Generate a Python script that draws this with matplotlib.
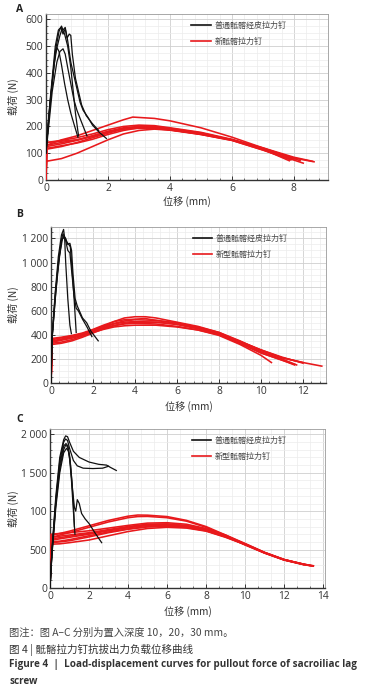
import matplotlib
matplotlib.use("Agg")
import matplotlib.pyplot as plt
from matplotlib.ticker import FixedLocator, AutoMinorLocator
from matplotlib.lines import Line2D

plt.rcParams['font.family'] = ['Open Sans', 'Noto Sans CJK SC', 'DejaVu Sans']

# ---------------- Panel A data (depth 10 mm) ----------------
A_black = [
    [(0,110),(0.15,300),(0.3,480),(0.42,555),(0.5,575),(0.55,560),(0.62,570),(0.7,520),(0.8,440),(0.9,390),(1.0,340),(1.1,290),(1.2,260),(1.35,235),(1.5,205),(1.7,180),(1.95,155)],
    [(0,120),(0.15,320),(0.3,500),(0.4,560),(0.48,570),(0.55,545),(0.62,565),(0.68,530),(0.75,545),(0.8,540),(0.85,470),(0.95,380),(1.05,330),(1.15,280),(1.3,240),(1.5,210),(1.7,185)],
    [(0,100),(0.1,250),(0.25,420),(0.35,495),(0.42,480),(0.5,430),(0.6,360),(0.7,300),(0.8,250),(0.9,210),(1.03,160)],
    [(0,100),(0.2,330),(0.35,440),(0.45,480),(0.55,490),(0.62,470),(0.7,420),(0.8,360),(0.9,300),(1.0,260),(1.15,215),(1.32,165)],
    [(0,105),(0.15,310),(0.3,470),(0.45,540),(0.52,565),(0.6,545),(0.7,500),(0.8,420),(0.88,330),(0.95,250),(1.05,165)],
]
A_red = [
    [(0,0),(0.02,130),(0.5,150),(1,165),(1.5,185),(2,205),(2.5,225),(2.8,235),(3.5,230),(4,221),(5,195),(6,160),(7,120),(8,85),(8.6,70)],
    [(0,0),(0.02,140),(0.5,148),(1,158),(1.5,172),(2,188),(2.5,200),(3,205),(3.5,203),(4,195),(5,178),(6,152),(7,118),(8,82),(8.65,68)],
    [(0,0),(0.02,125),(0.5,135),(1,148),(1.5,165),(2,182),(2.5,195),(3,200),(3.5,198),(4,190),(5,172),(6,150),(7,115),(7.85,72)],
    [(0,0),(0.02,115),(0.5,125),(1,140),(1.5,158),(2,175),(2.5,190),(3,198),(3.5,196),(4,188),(5,170),(6,148),(7,112),(8.3,63)],
    [(0,0),(0.02,118),(0.5,128),(1,138),(1.5,152),(2,170),(2.5,185),(3,195),(3.5,195),(4,188),(5,172),(6,150),(7,118),(8,78)],
    [(0,0),(0.02,140),(0.5,145),(1,150),(1.5,162),(2,178),(2.5,192),(3,200),(3.5,200),(4,193),(5,176),(6,150),(7,120),(8.2,72)],
    [(0,0),(0.02,70),(0.5,80),(1,100),(1.5,125),(2,150),(2.5,172),(3,185),(3.5,190),(4,186),(5,170),(6,148),(7,112),(7.9,75)],
    [(0,0),(0.02,130),(0.5,140),(1,150),(1.5,165),(2,180),(2.5,190),(3,193),(3.5,192),(4,187),(5,172),(6,150),(7,116),(8,80)],
]

# ---------------- Panel B data (depth 20 mm) ----------------
B_black = [
    [(0,0),(0.05,380),(0.2,750),(0.35,1050),(0.5,1230),(0.6,1275),(0.65,1200),(0.7,1000),(0.8,700),(0.9,480),(0.97,410)],
    [(0,0),(0.05,370),(0.2,730),(0.35,1000),(0.5,1190),(0.57,1240),(0.65,1210),(0.75,1170),(0.85,1150),(0.92,1130),(1.0,950),(1.1,700),(1.15,560),(1.2,420)],
    [(0,0),(0.05,360),(0.2,700),(0.4,1050),(0.55,1200),(0.62,1220),(0.7,1200),(0.8,1150),(0.9,1160),(0.98,1100),(1.05,900),(1.15,700),(1.25,640),(1.35,600),(1.5,540),(1.7,500),(1.9,430),(2.25,350)],
    [(0,0),(0.05,370),(0.3,900),(0.5,1180),(0.6,1210),(0.7,1180),(0.8,1100),(0.9,1080),(1.0,900),(1.1,720),(1.2,620),(1.3,600),(1.5,530),(1.7,470),(1.95,385)],
]
B_red = [
    [(0,0),(0.05,340),(0.5,360),(1,380),(1.5,400),(2,430),(2.5,470),(3,510),(3.5,540),(4,550),(4.5,550),(5,540),(6,505),(7,470),(8,420),(9,350),(10,270),(11,210),(12,170),(12.9,140)],
    [(0,0),(0.05,360),(0.5,375),(1,390),(1.5,410),(2,440),(2.5,470),(3,495),(3.5,515),(4,525),(5,520),(6,500),(7,460),(8,410),(9,330),(10,250),(11,190),(11.6,155)],
    [(0,0),(0.05,320),(0.5,330),(1,350),(1.5,380),(2,415),(2.5,450),(3,475),(3.5,490),(4,495),(5,490),(6,470),(7,440),(8,395),(9,320),(10,230),(10.5,170)],
    [(0,0),(0.05,350),(0.5,365),(1,385),(1.5,405),(2,430),(2.5,455),(3,478),(3.5,495),(4,505),(5,505),(6,490),(7,455),(8,410),(9,345),(10,275),(11,215),(12,165)],
    [(0,0),(0.05,330),(0.5,340),(1,360),(1.5,390),(2,420),(2.5,445),(3,465),(3.5,475),(4,480),(5,480),(6,465),(7,440),(8,400),(9,330),(10,250),(11,190),(11.6,150)],
    [(0,0),(0.05,370),(0.5,380),(1,395),(1.5,415),(2,445),(2.5,480),(3,510),(3.5,525),(4,530),(4.5,535),(5,520),(6,495),(7,465),(8,420),(9,345),(10,275),(11,210),(12,170)],
    [(0,0),(0.05,340),(0.5,355),(1,372),(1.5,395),(2,425),(2.5,460),(3,490),(3.5,505),(4,510),(5,505),(6,485),(7,450),(8,405),(9,340),(10,260),(11,200),(11.7,150)],
]

# ---------------- Panel C data (depth 30 mm) ----------------
C_black = [
    [(0,0),(0.1,500),(0.3,1200),(0.5,1700),(0.7,1930),(0.8,1980),(0.9,1970),(1.0,1900),(1.2,1780),(1.5,1700),(2.0,1640),(2.5,1610),(2.9,1600),(3.1,1570),(3.4,1530)],
    [(0,0),(0.1,480),(0.3,1150),(0.5,1650),(0.7,1900),(0.8,1940),(0.9,1920),(1.0,1820),(1.2,1660),(1.4,1590),(1.7,1560),(2.2,1555),(2.7,1560),(3.0,1585)],
    [(0,0),(0.1,450),(0.3,1100),(0.5,1550),(0.7,1800),(0.8,1860),(0.9,1840),(1.0,1700),(1.1,1400),(1.2,1000),(1.28,700)],
    [(0,0),(0.1,430),(0.3,1050),(0.5,1500),(0.7,1760),(0.85,1820),(0.95,1780),(1.05,1600),(1.15,1300),(1.25,1050),(1.32,1000),(1.4,1150),(1.5,1100),(1.62,970),(1.8,900),(2.0,840),(2.3,720),(2.65,590)],
    [(0,0),(0.1,460),(0.3,1120),(0.5,1600),(0.7,1850),(0.82,1880),(0.92,1850),(1.02,1700),(1.12,1400),(1.2,1100),(1.25,800)],
]
C_red = [
    [(0,0),(0.05,680),(0.5,710),(1,740),(2,810),(3,880),(4,935),(4.5,950),(5,948),(6,930),(7,880),(8,800),(9,690),(10,570),(11,460),(12,370),(13,310),(13.5,290)],
    [(0,0),(0.05,650),(0.5,690),(1,720),(2,790),(3,860),(4,915),(4.5,930),(5,932),(6,915),(7,870),(8,790),(9,680),(10,560),(11,455),(12,365),(13,305),(13.5,285)],
    [(0,0),(0.05,700),(0.5,710),(1,720),(2,745),(3,780),(4,815),(5,845),(6,850),(7,830),(8,775),(9,690),(10,580),(11,465),(12,372),(13,310),(13.4,290)],
    [(0,0),(0.05,660),(0.5,675),(1,690),(2,720),(3,760),(4,800),(5,830),(6,835),(7,815),(8,765),(9,680),(10,575),(11,462),(12,370),(13,308),(13.5,288)],
    [(0,0),(0.05,620),(0.5,640),(1,660),(2,700),(3,745),(4,785),(5,815),(6,820),(7,800),(8,755),(9,672),(10,570),(11,460),(12,368),(13,306)],
    [(0,0),(0.05,600),(0.5,610),(1,630),(2,680),(3,730),(4,770),(5,800),(6,810),(7,792),(8,748),(9,668),(10,568),(11,458),(12,366),(13.3,295)],
    [(0,0),(0.05,570),(0.5,575),(1,590),(2,625),(3,680),(4,735),(5,775),(6,790),(7,780),(8,740),(9,660),(10,565),(11,455),(12,364),(13,304),(13.5,285)],
    [(0,0),(0.05,640),(0.5,655),(1,675),(2,710),(3,752),(4,792),(5,822),(6,828),(7,808),(8,760),(9,676),(10,572),(11,461),(12,369),(13,307)],
    [(0,0),(0.05,590),(0.5,600),(1,615),(2,665),(3,720),(4,765),(5,795),(6,805),(7,788),(8,745),(9,665),(10,566)],
]

A_yticks = [0, 100, 200, 300, 400, 500, 600]
A_ylabels = ["0", "100", "200", "300", "400", "500", "600"]
A_xticks = [0, 2, 4, 6, 8]
B_yticks = [0, 200, 400, 600, 800, 1000, 1200]
B_ylabels = ["0", "200", "400", "600", "800", "1 000", "1 200"]
B_xticks = [0, 2, 4, 6, 8, 10, 12]
C_yticks = [0, 500, 1000, 1500, 2000]
C_ylabels = ["0", "500", "100", "1 500", "2 000"]
C_xticks = [0, 2, 4, 6, 8, 10, 12, 14]

legend_black = "普通骶髂经皮拉力钉"
legend_red_A = "新骶髂拉力钉"
legend_red_BC = "新型骶髂拉力钉"

fig = plt.figure(figsize=(3.65, 6.94), dpi=100)
W, H = 365, 694

def box(l, t, r, b):
    return [l / W, 1 - b / H, (r - l) / W, (b - t) / H]

panels = [
    dict(rect=box(46, 14, 328, 180), xlim=(0, 9.1), ylim=(0, 620), black=A_black, red=A_red,
         yt=A_yticks, yl=A_ylabels, xt=A_xticks, xminor=5, yminor=4, red_label=legend_red_A,
         letter="A", letter_y=10, xlabel_y=202, ylabel_x=13),
    dict(rect=box(51, 227, 326, 383), xlim=(0, 13.1), ylim=(0, 1295), black=B_black, red=B_red,
         yt=B_yticks, yl=B_ylabels, xt=B_xticks, xminor=5, yminor=4, red_label=legend_red_BC,
         letter="B", letter_y=214, xlabel_y=407, ylabel_x=13),
    dict(rect=box(50, 429, 325, 588), xlim=(0, 14.1), ylim=(0, 2070), black=C_black, red=C_red,
         yt=C_yticks, yl=C_ylabels, xt=C_xticks, xminor=3, yminor=5, red_label=legend_red_BC,
         letter="C", letter_y=419, xlabel_y=612, ylabel_x=13),
]

red_c = "#e8191c"
cjk = ['Noto Sans CJK SC', 'DejaVu Sans']
for p in panels:
    ax = fig.add_axes(p["rect"])
    ax.set_facecolor("white")
    for c in p["red"]:
        xs = [q[0] for q in c]; ys = [q[1] for q in c]
        ax.plot(xs, ys, color=red_c, lw=1.15, zorder=3)
    for c in p["black"]:
        xs = [q[0] for q in c]; ys = [q[1] for q in c]
        ax.plot(xs, ys, color="#111111", lw=0.9, zorder=4)
    ax.set_xlim(*p["xlim"]); ax.set_ylim(*p["ylim"])
    ax.xaxis.set_major_locator(FixedLocator(p["xt"]))
    ax.set_xticklabels([str(v) for v in p["xt"]])
    ax.yaxis.set_major_locator(FixedLocator(p["yt"]))
    ax.set_yticklabels(p["yl"])
    ax.xaxis.set_minor_locator(AutoMinorLocator(p["xminor"]))
    ax.yaxis.set_minor_locator(AutoMinorLocator(p["yminor"]))
    ax.grid(which="major", color="#cfcfcf", lw=0.6, zorder=0)
    ax.grid(which="minor", color="#ececec", lw=0.5, zorder=0)
    ax.set_axisbelow(True)
    ax.tick_params(which="major", direction="in", length=3, width=0.7, labelsize=7.4,
                   colors="#333333", pad=2)
    ax.tick_params(which="minor", direction="in", length=1.5, width=0.5, colors="#333333")
    ax.tick_params(axis="x", which="both", top=False)
    ax.tick_params(axis="y", which="both", right=False)
    for s in ["left", "bottom"]:
        ax.spines[s].set_color("#333333"); ax.spines[s].set_linewidth(1.0)
    for s in ["top", "right"]:
        ax.spines[s].set_color("#9a9a9a"); ax.spines[s].set_linewidth(0.6)
    handles = [Line2D([], [], color="#111111", lw=1.2), Line2D([], [], color=red_c, lw=1.2)]
    leg = ax.legend(handles, [legend_black, p["red_label"]], loc="upper left",
                    bbox_to_anchor=(0.49, 1.0), frameon=False,
                    handlelength=2.4, handletextpad=0.45, labelspacing=0.85,
                    prop={'family': cjk, 'size': 5.8})
    for t in leg.get_texts():
        t.set_color("#444444")
    fig.text(16 / W, 1 - p["letter_y"] / H, p["letter"], fontsize=7.5, fontweight="bold",
             ha="left", va="center", color="#222222")
    l, b, w, h = p["rect"]
    fig.text(l + w / 2, 1 - p["xlabel_y"] / H, "位移 (mm)", fontsize=7.3, ha="center",
             va="center", color="#333333", family=cjk)
    fig.text(p["ylabel_x"] / W, b + h / 2, "载荷 (N)", fontsize=7.3, ha="center",
             va="center", rotation=90, color="#333333", family=cjk)

fig.text(9 / W, 1 - 633 / H, "图注：图 A–C 分别为置入深度 10，20，30 mm。", fontsize=7.4,
         ha="left", va="center", color="#444444", family=cjk)
fig.text(9 / W, 1 - 650 / H, "图 4 | 骶髂拉力钉抗拔出力负载位移曲线", fontsize=7.6,
         ha="left", va="center", color="#333333", family=cjk)
fig.text(9 / W, 1 - 665 / H, "Figure 4  |  Load-displacement curves for pullout force of sacroiliac lag",
         fontsize=7.1, fontweight="bold", ha="left", va="center", color="#333333",
         family=['Open Sans', 'DejaVu Sans'])
fig.text(9 / W, 1 - 681 / H, "screw", fontsize=7.1, fontweight="bold", ha="left", va="center",
         color="#333333", family=['Open Sans', 'DejaVu Sans'])

fig.savefig("out.png", dpi=100, facecolor="white")
